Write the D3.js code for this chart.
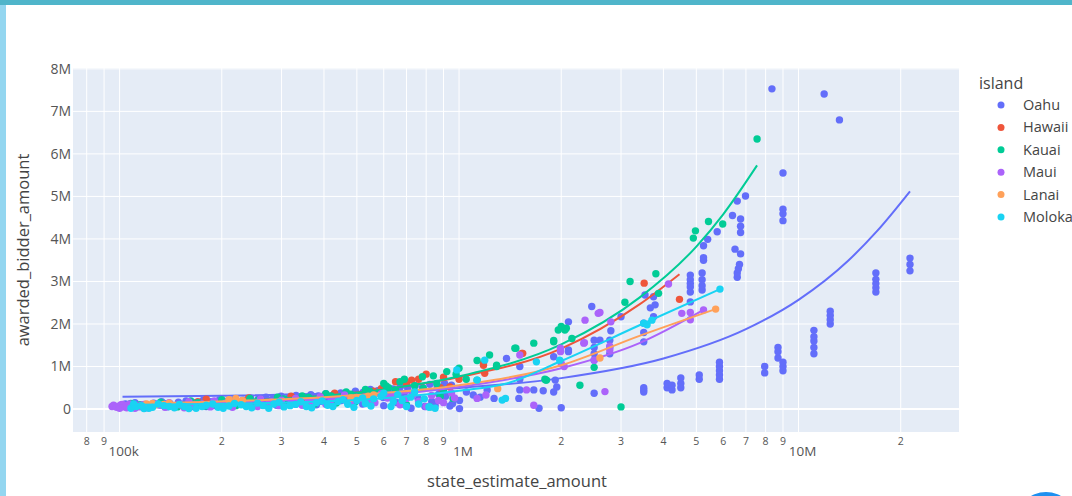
<!DOCTYPE html>
<html><head><meta charset="utf-8">
<script src="https://cdn.jsdelivr.net/npm/d3@7"></script>
<style>body{margin:0;background:#fff;overflow:hidden}svg{display:block;font-family:"Open Sans",sans-serif}</style>
</head><body><svg id="c" width="1072" height="496"></svg>
<script>
// all amounts in thousands of dollars: [state_estimate_amount, awarded_bidder_amount]
const islands = ["Oahu","Hawaii","Kauai","Maui","Lanai","Molokai"];
const colors = ["#636efa","#EF553B","#00cc96","#ab63fa","#FFA15A","#19d3f3"];
const oahu = [[102,70],[108,40],[115,90],[122,60],[130,100],[138,50],[146,80],[155,120],[163,60],[172,100],[181,140],[190,80],[200,130],[210,170],[221,100],[232,150],[244,190],[256,120],[268,170],[281,220],[295,140],[309,200],[324,250],[340,160],[356,230],[373,280],[391,180],[410,260],[430,320],[450,200],[472,300],[495,360],[519,230],[544,340],[570,410],[598,270],[627,380],[657,150],[689,330],[722,20],[757,250],[793,60],[831,180],[871,350],[913,300],[957,130],[1003,10],[1003,200],[1051,400],[1101,330],[1154,280],[1210,450],[1268,250],[118,30],[135,130],[160,40],[180,60],[215,60],[250,80],[290,90],[330,110],[380,100],[420,130],[470,160],[520,120],[600,80],[680,120],[760,140],[850,90],[940,70],
[104,120],[111,150],[119,110],[126,140],[133,170],[141,120],[149,160],[157,190],[166,150],[176,200],[186,170],[197,220],[208,190],[219,240],[231,210],[243,260],[256,230],[270,280],[284,250],[299,300],[315,270],[331,320],[348,290],[366,340],[385,310],[405,360],[426,330],[448,380],[471,350],[495,420],[521,390],[548,460],[576,430],[606,500],[638,470],[671,520],[706,490],[742,550],[780,510],[820,580],[862,540],[906,600],[950,560],
[1380,1190],[1500,250],[1510,450],[1510,700],[1510,1000],[1660,450],[1720,20],[1770,430],[1900,400],[1920,680],[1940,520],[1900,1230],[2000,30],[2100,2050],[2100,1390],[2100,1350],[2460,2410],[2500,370],[2500,1150],[2500,1300],[2500,1450],[2500,1620],[2600,1620],[2780,1300],[2780,1450],[2780,1620],[2800,1840],[3000,2170],[3500,400],[3500,450],[3500,500],[3500,1580],[3500,1800],[3500,2020],[3530,2680],[3660,2380],[3740,2170],[3740,2640],[3780,2450],[4100,500],[4100,600],[4240,450],[4240,560],[4500,500],[4500,600],[4500,730],[4800,2520],[4800,2750],[4800,2870],[4800,2950],[4800,3040],[4800,3150],[5100,700],[5100,800],[5200,2800],[5200,2900],[5200,3040],[5200,3200],[5250,3500],[5250,3560],[5250,3840],[5400,3990],[5760,4170],[5850,700],[5850,800],[5850,900],[5850,1000],[5850,1100],[6390,4550],[6500,3760],[6600,4890],[6750,3650],[6750,4150],[6750,4300],[6750,4470],[6600,3100],[6600,3200],[6650,3300],[6700,3400],[6980,5010],[7950,850],[7950,1000],[8350,7530],[8700,1200],[8700,1350],[8700,1450],[9000,900],[9000,1000],[9000,1100],[9000,4430],[9000,4590],[9000,4700],[9000,5550],[11100,1300],[11100,1450],[11100,1600],[11100,1700],[11100,1850],[11900,7410],[12400,2000],[12400,2100],[12400,2200],[12400,2300],[13200,6800],[16900,2750],[16900,2850],[16900,2950],[16900,3050],[16900,3200],[21300,3250],[21300,3400],[21300,3550]];
const hawaii = [[160,140],[170,170],[210,120],[260,200],[300,170],[350,250],[400,300],[470,330],[560,420],[620,280],[650,640],[700,600],[725,680],[800,820],[880,500],[940,520],[1000,700],[1180,1070],[1180,1030],[1190,840],[1540,1310],[1530,1310],[3510,2960],[4460,2580],[180,230],[240,260],[280,130],[320,300],[380,200],[430,370],[520,280],[590,480],[760,700],[900,750]];
const kauai = [[105,50],[115,100],[125,70],[140,130],[155,90],[170,150],[190,110],[210,180],[230,130],[255,200],[280,160],[305,240],[330,190],[360,280],[390,220],[420,310],[450,260],[480,350],[510,300],[545,420],[580,380],[600,600],[620,500],[650,450],[670,640],[700,100],[740,550],[785,490],[820,50],[840,780],[880,300],[920,880],[960,250],[1000,960],[1050,700],[108,130],[120,40],[132,160],[148,50],[162,190],[180,70],[200,220],[220,80],[242,250],[268,90],[292,280],[318,110],[345,310],[375,120],[405,360],[435,140],[465,400],[495,170],[530,460],[560,200],[610,540],[640,300],[690,700],[730,350],[780,760],[860,600],[900,450],[980,820],
[1130,1140],[1130,680],[1230,1270],[1290,1030],[1290,1000],[1460,1430],[1470,1430],[1660,1550],[1790,700],[1800,680],[1810,680],[1900,1580],[1900,1610],[1960,1860],[2000,1940],[2050,1860],[2070,1900],[2150,1660],[2270,560],[2500,980],[3000,50],[3080,2510],[3190,3000],[3800,3180],[3870,2720],[4900,4020],[4970,4190],[5430,4410],[5980,4350],[7550,6350]];
const maui = [[95,60],[96,90],[98,40],[100,70],[101,100],[103,50],[104,80],[106,60],[108,100],[110,40],[112,70],[118,110],[125,60],[132,90],[140,150],[150,100],[160,170],[175,120],[190,190],[205,140],[220,200],[240,130],[260,230],[280,170],[300,210],[330,250],[360,180],[390,290],[420,220],[460,330],[500,270],[540,180],[590,360],[640,300],[700,250],[760,180],[830,320],[900,150],[970,260],[100,20],[102,110],[105,30],[107,120],[109,90],[111,20],[114,50],[116,90],[120,30],[128,120],[136,40],[145,70],[155,30],[165,90],[185,50],[200,90],[215,40],[235,100],[255,60],[275,120],[295,80],[320,140],[345,90],[375,160],[405,110],[440,200],[480,140],[520,240],[565,150],[615,260],[670,100],[730,320],[800,60],[870,200],[950,380],
[1130,250],[1200,330],[1510,1270],[1580,450],[1660,90],[1990,1350],[1990,1430],[2000,1070],[2040,1000],[2330,1550],[2340,1560],[2350,2090],[2500,1150],[2570,2250],[2600,2270],[2690,410],[2780,1390],[2780,1480],[2800,2050],[4140,2940],[4530,2250],[4800,2100],[4800,2270],[5250,2330]];
const lanai = [[120,120],[125,130],[135,110],[220,250],[230,200],[480,260],[500,230],[560,330],[1300,480],[2600,1200],[5700,2350],[128,100],[140,140],[210,220],[540,300]];
const molokai = [[108,20],[112,60],[118,10],[125,40],[135,80],[145,30],[155,60],[168,20],[180,90],[195,40],[210,70],[228,100],[245,30],[265,80],[285,120],[305,50],[330,110],[355,60],[380,150],[410,90],[440,180],[470,110],[500,200],[530,130],[560,240],[600,370],[640,170],[680,200],[720,280],[760,120],[815,50],[820,50],[985,920],[110,120],[116,80],[122,20],[130,120],[140,60],[150,110],[160,10],[175,60],[188,120],[202,20],[218,130],[236,60],[255,140],[275,20],[295,160],[318,80],[342,170],[368,30],[395,190],[425,60],[455,220],[490,40],[520,260],[550,70],[590,300],[630,60],[660,340],[700,60],[740,400],[790,240],[850,20],
[1130,680],[1190,1150],[1340,210],[1370,250],[1690,1110],[1980,1150],[3500,2020],[3580,1980],[3700,2090],[5870,2820]];
// trendlines
const trendOahu = [[102,290],[200,313],[500,382],[1000,497],[2000,727],[4000,1187],[7000,1877],[10000,2567],[14000,3487],[17000,4177],[21300,5120]];
const trendHawaii = [[160,150],[500,390],[1000,750],[2000,1420],[3400,2460],[4460,3170]];
const trendKauai = [[105,90],[300,240],[585,450],[1000,770],[2000,1520],[3400,2620],[5000,3820],[6000,4580],[7550,5730]];
const trendMaui = [[95,120],[300,210],[1000,520],[2000,960],[3400,1550],[5250,2330]];
const trendLanai = [[120,130],[500,330],[1000,560],[2000,1030],[3400,1720],[5700,2350]];
const trendMolokai = [[108,100],[300,150],[585,250],[1000,430],[1380,600],[2000,1130],[3400,1970],[5870,2820]];
const yTicks = [0,1000,2000,3000,4000,5000,6000,7000,8000];
const yTickLabels = ["0","1M","2M","3M","4M","5M","6M","7M","8M"];
const xMajorTicks = [100,1000,10000];
const xMajorLabels = ["100k","1M","10M"];
const xMinorTicks = [80,90,200,300,400,500,600,700,800,900,2000,3000,4000,5000,6000,7000,8000,9000,20000];

const points = [oahu,hawaii,kauai,maui,lanai,molokai];
const trends = [trendOahu,trendHawaii,trendKauai,trendMaui,trendLanai,trendMolokai];

const svg = d3.select("#c");
const L=73,R=959,T=68,B=432;
const x = d3.scaleLog().domain([72.9,29700]).range([L,R]);
const y = d3.scaleLinear().domain([-540,8020]).range([B,T]);

// frame decorations
svg.append("rect").attr("x",0).attr("y",0).attr("width",1072).attr("height",5).attr("fill","#4fb5ca");
svg.append("rect").attr("x",0).attr("y",5).attr("width",6).attr("height",491).attr("fill","#93d6f0");
svg.append("circle").attr("cx",1046).attr("cy",522).attr("r",30).attr("fill","#1e90f0");

svg.append("rect").attr("x",L).attr("y",T).attr("width",R-L).attr("height",B-T).attr("fill","#e5ecf6");
const g = svg.append("g");
const allX = xMajorTicks.concat(xMinorTicks);
g.selectAll(".gx").data(allX).join("line").attr("x1",d=>x(d)).attr("x2",d=>x(d)).attr("y1",T).attr("y2",B).attr("stroke","#fff").attr("stroke-width",1);
g.selectAll(".gy").data(yTicks).join("line").attr("x1",L).attr("x2",R).attr("y1",d=>y(d)).attr("y2",d=>y(d)).attr("stroke","#fff").attr("stroke-width",d=>d===0?2:1);

svg.selectAll(".yl").data(yTicks).join("text").attr("x",71).attr("y",d=>y(d)).attr("dy","0.35em").attr("text-anchor","end").attr("font-size",14).attr("fill","#555").text((d,i)=>yTickLabels[i]);
svg.selectAll(".xm").data(xMinorTicks).join("text").attr("x",d=>x(d)).attr("y",441).attr("dy","0.35em").attr("text-anchor","middle").attr("font-size",10.5).attr("fill","#555").text(d=>String(d).charAt(0));
svg.selectAll(".xM").data(xMajorTicks).join("text").attr("x",d=>x(d)+4).attr("y",451).attr("dy","0.35em").attr("text-anchor","middle").attr("font-size",13.5).attr("fill","#555").text((d,i)=>xMajorLabels[i]);

svg.append("text").attr("transform","translate(29,250) rotate(-90)").attr("text-anchor","middle").attr("font-size",16.5).attr("fill","#444").text("awarded_bidder_amount");
svg.append("text").attr("x",517).attr("y",487).attr("text-anchor","middle").attr("font-size",16.5).attr("fill","#444").text("state_estimate_amount");

const line = d3.line().x(d=>x(d[0])).y(d=>y(d[1])).curve(d3.curveMonotoneX);
svg.append("clipPath").attr("id","pc").append("rect").attr("x",L).attr("y",T).attr("width",R-L).attr("height",B-T);
const plot = svg.append("g").attr("clip-path","url(#pc)");
points.forEach((pts,i)=>{
  plot.append("g").selectAll("circle").data(pts).join("circle").attr("cx",d=>x(d[0])).attr("cy",d=>y(d[1])).attr("r",3.7).attr("fill",colors[i]);
  plot.append("path").datum(trends[i]).attr("d",line).attr("fill","none").attr("stroke",colors[i]).attr("stroke-width",2);
});

svg.append("text").attr("x",979).attr("y",83).attr("dy","0.35em").attr("font-size",16).attr("fill","#444").text("island");
const lg = svg.selectAll(".lg").data(islands).join("g").attr("transform",(d,i)=>`translate(0,${105+i*22.4})`);
lg.append("circle").attr("cx",1001).attr("cy",0).attr("r",3.5).attr("fill",(d,i)=>colors[i]);
lg.append("text").attr("x",1023).attr("y",0).attr("dy","0.35em").attr("font-size",14.5).attr("fill","#444").text(d=>d);
</script></body></html>
